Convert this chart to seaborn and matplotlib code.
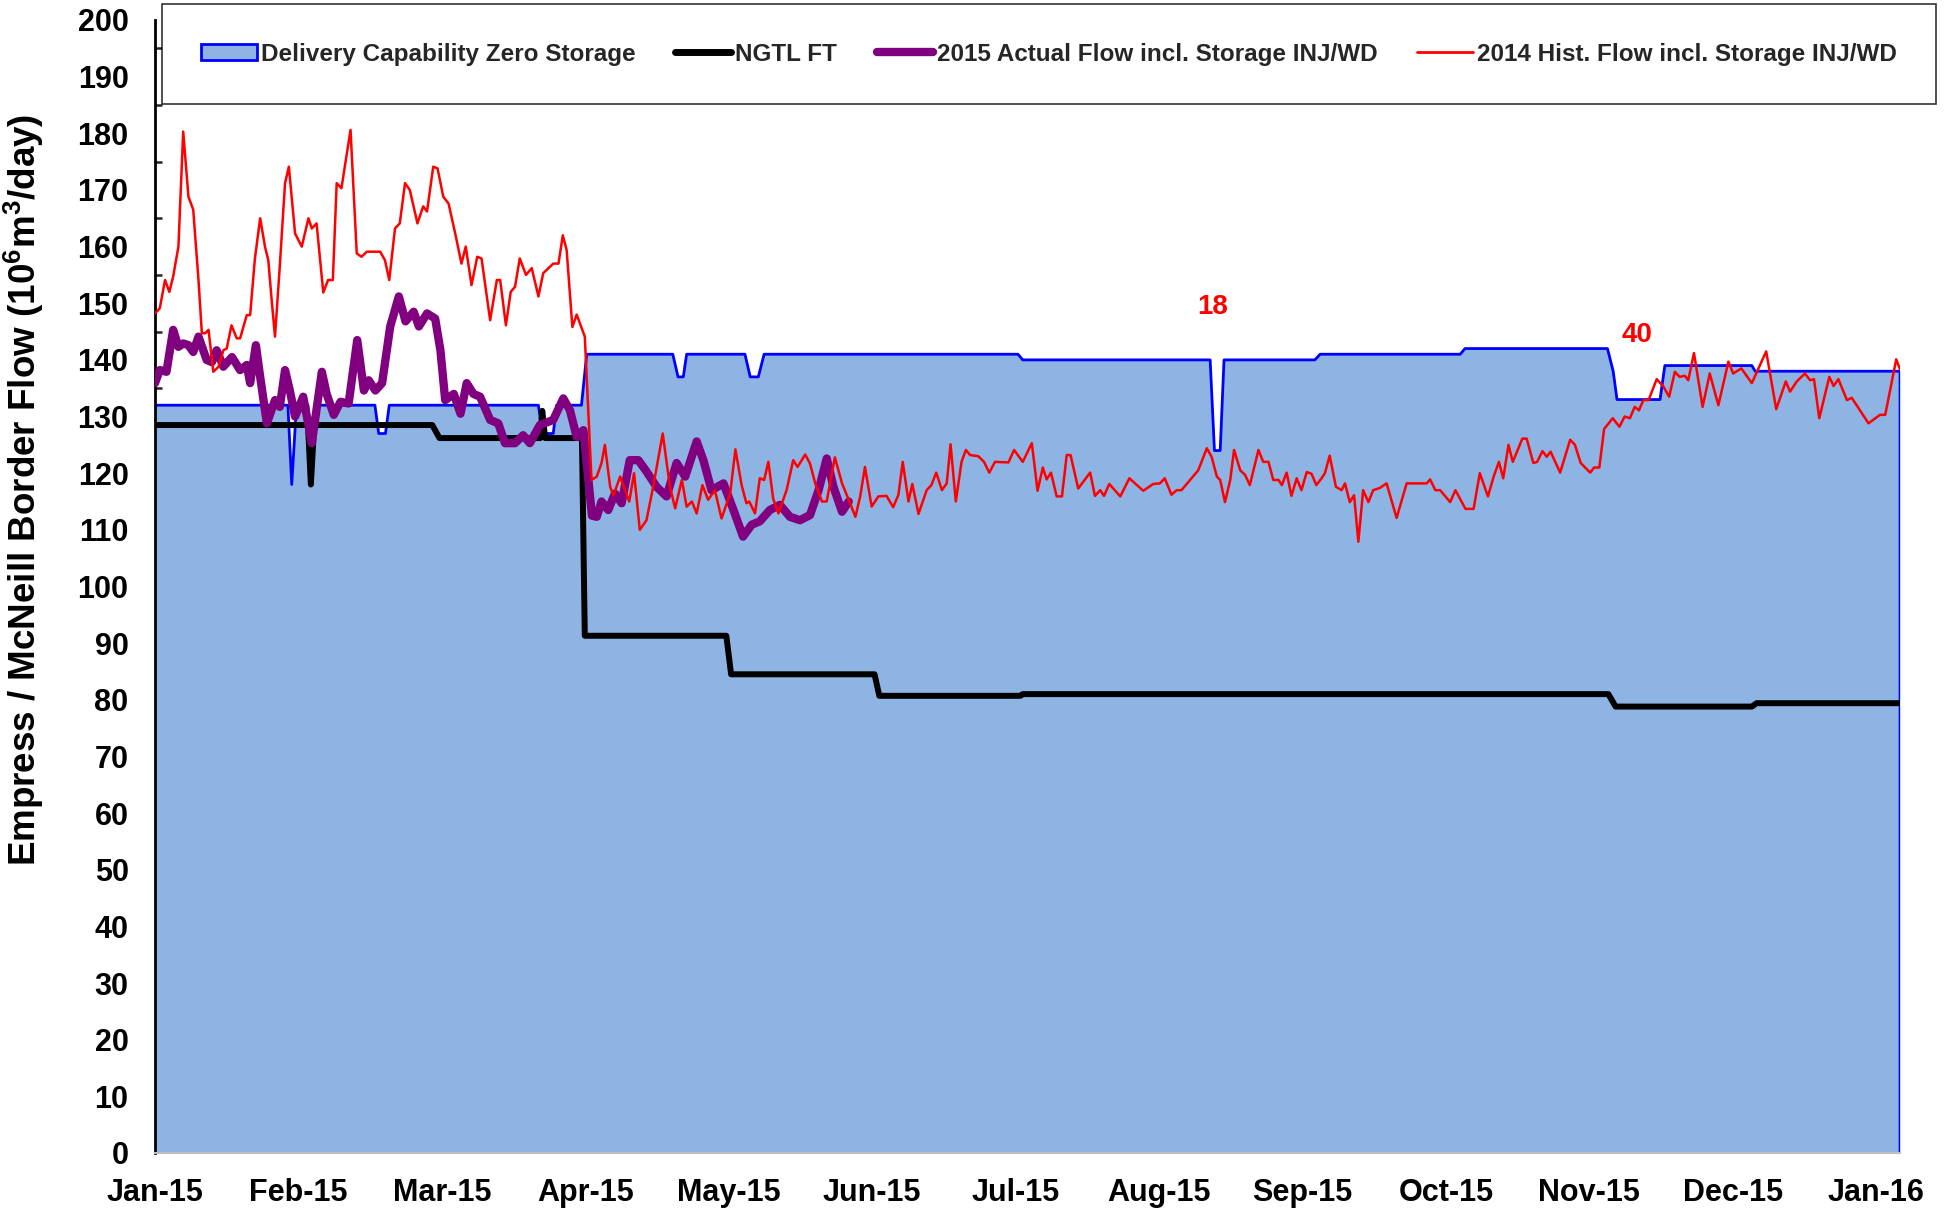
import matplotlib
matplotlib.use("Agg")
import matplotlib.pyplot as plt
import seaborn as sns
from matplotlib.patches import Patch
from matplotlib.lines import Line2D

# x axis is day of 2015 (0 = Jan 1), labels every 30 days like the source chart
tick_days = [0, 30, 60, 90, 120, 150, 180, 210, 240, 270, 300, 330, 360]
tick_labels = ["Jan-15", "Feb-15", "Mar-15", "Apr-15", "May-15", "Jun-15", "Jul-15",
               "Aug-15", "Sep-15", "Oct-15", "Nov-15", "Dec-15", "Jan-16"]

# Delivery Capability Zero Storage (area)
cap_day = [0, 27.8, 28.6, 29.6, 32.0, 32.7, 33.5, 46.0, 46.8, 48.2, 49.0,
           80.2, 81.0, 83.3, 84.0, 89.2, 90.3, 108.3, 109.4, 110.5, 111.2,
           123.4, 124.5, 126.2, 127.4, 180.5, 181.5, 220.7, 221.6, 222.8, 223.6,
           242.6, 243.7, 273.0, 274.0, 303.8, 305.0, 305.8, 314.8, 315.8,
           334.0, 334.7, 365.0, 365.0]
cap_val = [132, 132, 118, 132, 132, 118, 132, 132, 127, 127, 132,
           132, 127, 127, 132, 132, 141, 141, 137, 137, 141,
           141, 137, 137, 141, 141, 140, 140, 124, 124, 140,
           140, 141, 141, 142, 142, 138, 133, 133, 139,
           139, 138, 138, 0]

# NGTL FT
ft_day = [0, 32.0, 32.6, 33.3, 58.0, 59.5, 80.6, 81.0, 81.6, 89.3, 89.9,
          119.5, 120.5, 150.5, 151.5, 181.0, 181.5, 304.0, 305.5, 334.0, 335.0, 365.0]
ft_val = [128.5, 128.5, 118, 128.5, 128.5, 126.2, 126.2, 131.0, 126.2, 126.2, 91.3,
          91.3, 84.5, 84.5, 80.7, 80.7, 81.0, 81.0, 78.8, 78.8, 79.4, 79.4]

# 2015 Actual Flow incl. Storage INJ/WD
act_day = [0.0, 1.0, 2.4, 3.8, 4.9, 5.9, 7.0, 8.0, 9.1, 10.1, 10.8, 11.9, 12.9, 14.3,
           16.1, 17.8, 19.2, 19.9, 21.1, 22.0, 23.4, 25.1, 26.1, 27.2, 28.2, 29.3,
           31.0, 32.8, 34.9, 35.9, 37.4, 38.8, 40.5, 42.3, 43.7, 44.7, 46.1, 47.5,
           49.2, 51.0, 52.4, 54.1, 55.2, 56.9, 58.6, 59.7, 60.7, 62.5, 63.9, 65.2,
           66.6, 68.0, 70.1, 71.8, 73.2, 75.3, 77.0, 78.4, 80.5, 83.3, 85.4, 86.8,
           88.2, 89.6, 91.4, 92.4, 93.4, 94.8, 96.2, 97.6, 99.3, 101.1, 102.8, 104.9,
           107.0, 109.1, 110.9, 113.3, 114.7, 116.4, 118.9, 121.0, 123.0, 124.8,
           126.5, 128.6, 130.7, 132.8, 134.9, 137.0, 138.8, 140.5, 141.9, 143.7, 145.1]
act_val = [135.9, 138.2, 137.9, 145.3, 142.3, 142.9, 142.6, 141.4, 144.1, 141.7, 140.0,
           139.6, 141.7, 138.8, 140.5, 138.2, 139.1, 135.9, 142.6, 137.0, 128.8, 132.9,
           131.7, 138.2, 134.6, 130.0, 133.5, 125.3, 137.9, 134.0, 130.3, 132.6, 132.3,
           143.5, 134.6, 136.4, 134.6, 135.9, 145.9, 151.2, 146.8, 148.5, 145.9, 148.2,
           147.3, 141.7, 132.9, 134.0, 130.5, 135.9, 134.0, 133.5, 129.4, 128.8, 125.3,
           125.3, 126.7, 125.3, 128.5, 129.4, 133.2, 131.1, 126.4, 127.6, 112.5, 112.3,
           115.0, 113.5, 116.4, 114.7, 122.3, 122.3, 120.3, 117.6, 115.9, 121.8, 119.4,
           125.6, 122.3, 117.0, 118.2, 113.5, 108.8, 110.9, 111.5, 113.5, 114.4, 112.3,
           111.7, 112.6, 117.0, 122.6, 117.6, 113.2, 115.0]

# 2014 Hist. Flow incl. Storage INJ/WD
hist_day = [0.0, 1.0, 2.1, 3.0, 3.8, 4.9, 5.9, 7.0, 8.0, 9.1, 9.8, 10.5, 11.2, 12.2,
            13.3, 14.3, 15.0, 16.0, 17.1, 17.8, 19.2, 19.9, 20.9, 22.0, 23.0, 23.7,
            24.4, 25.1, 26.1, 27.2, 28.0, 29.3, 30.7, 32.1, 32.8, 33.8, 35.2, 36.2,
            37.2, 38.0, 39.0, 39.7, 40.9, 42.2, 43.2, 44.3, 47.1, 48.1, 49.0, 50.2,
            51.2, 52.3, 53.3, 54.9, 56.1, 56.9, 58.2, 59.1, 60.3, 61.4, 62.8, 64.1,
            65.0, 66.2, 67.4, 68.3, 70.1, 71.5, 72.2, 73.4, 74.4, 75.3, 76.3, 77.6,
            78.8, 80.2, 81.2, 83.3, 84.4, 85.3, 86.1, 87.3, 88.2, 89.9, 91.3, 92.4,
            93.4, 94.1, 95.2, 95.9, 97.3, 98.3, 99.2, 100.2, 101.4, 102.8, 104.2,
            106.2, 107.7, 108.8, 110.2, 111.2, 112.3, 113.3, 114.5, 115.7, 117.1,
            118.5, 120.3, 121.4, 122.7, 123.7, 124.3, 125.5, 126.5, 127.4, 128.3,
            129.3, 130.4, 132.1, 133.5, 134.4, 136.0, 137.0, 138.1, 139.5, 140.5,
            142.2, 143.7, 145.1, 146.5, 147.5, 148.5, 149.9, 151.3, 153.0, 154.4,
            155.5, 156.4, 157.6, 158.4, 159.7, 161.4, 162.4, 163.4, 164.6, 165.6,
            166.4, 167.5, 168.7, 169.6, 170.5, 172.2, 173.4, 174.5, 175.7, 178.5,
            179.7, 181.5, 183.4, 184.6, 185.7, 186.5, 187.4, 188.6, 189.7, 190.7,
            191.5, 193.1, 195.6, 196.6, 197.7, 198.5, 199.6, 201.9, 203.8, 206.7,
            208.8, 210.2, 211.2, 212.6, 213.7, 214.7, 216.5, 218.2, 220.0, 221.0,
            222.1, 222.8, 223.8, 224.9, 225.7, 227.0, 228.0, 229.0, 230.8, 231.8,
            232.9, 233.9, 235.0, 235.7, 236.7, 237.7, 238.8, 239.8, 240.9, 241.9,
            242.9, 244.0, 244.7, 245.7, 247.0, 248.2, 248.9, 249.9, 250.8, 251.7,
            252.7, 253.8, 254.8, 256.2, 257.6, 259.7, 261.8, 266.0, 266.7, 267.8,
            268.8, 270.9, 272.0, 274.1, 275.8, 277.1, 278.8, 280.0, 281.1, 282.0,
            283.1, 284.0, 286.0, 286.9, 288.3, 289.1, 290.2, 291.1, 291.9, 293.9,
            296.0, 297.0, 298.2, 300.2, 301.0, 302.1, 303.1, 304.9, 306.3, 307.4,
            308.5, 309.5, 310.4, 311.3, 312.4, 314.1, 315.5, 316.7, 317.9, 318.9,
            320.0, 320.7, 321.9, 323.7, 325.2, 327.0, 329.1, 330.1, 331.8, 334.0,
            337.0, 339.1, 341.1, 342.0, 343.4, 345.1, 346.2, 347.0, 348.1, 350.2,
            351.1, 352.1, 353.9, 354.9, 358.4, 360.8, 361.9, 364.2, 365.0]
hist_val = [148.2, 149.1, 154.1, 152.0, 154.7, 160.0, 180.3, 168.8, 166.5, 154.1, 144.7,
            144.7, 145.3, 137.9, 138.8, 141.7, 142.0, 146.1, 143.8, 143.8, 147.9, 147.9,
            157.9, 165.0, 160.0, 157.6, 150.6, 144.1, 156.5, 171.2, 174.1, 162.3, 160.0,
            165.0, 163.2, 164.1, 151.9, 154.1, 154.1, 171.2, 170.3, 174.1, 180.6, 158.8,
            158.2, 159.1, 159.1, 157.6, 154.1, 163.2, 164.1, 171.2, 170.0, 164.1, 167.1,
            166.2, 174.1, 173.8, 168.8, 167.6, 162.3, 157.0, 160.0, 153.2, 158.2, 157.9,
            147.0, 154.1, 154.1, 146.1, 152.0, 152.9, 157.9, 155.0, 156.2, 151.2, 155.3,
            157.0, 157.0, 162.0, 159.4, 145.8, 148.0, 144.1, 118.8, 119.4, 121.8, 125.0,
            117.6, 116.1, 119.4, 117.0, 115.0, 120.0, 110.0, 111.7, 117.6, 127.0, 117.6,
            113.8, 118.8, 114.1, 115.0, 112.9, 117.9, 115.3, 117.0, 112.0, 116.4, 124.2,
            117.9, 114.7, 115.0, 112.9, 119.1, 118.8, 122.0, 115.5, 112.9, 117.0, 122.3,
            121.1, 123.3, 121.7, 118.2, 115.0, 115.0, 122.8, 118.2, 115.3, 112.3, 115.9,
            121.1, 114.1, 115.9, 116.0, 114.0, 116.2, 122.0, 115.0, 118.1, 112.8, 117.0,
            117.9, 120.1, 117.0, 118.2, 125.1, 115.0, 122.0, 124.1, 123.2, 123.0, 122.0,
            120.1, 122.0, 121.9, 124.1, 122.0, 125.3, 116.9, 121.0, 118.9, 120.1, 115.9,
            115.9, 123.2, 123.2, 117.3, 120.1, 116.0, 117.0, 116.0, 118.1, 115.9, 119.1,
            116.9, 118.1, 118.2, 119.1, 116.2, 117.0, 117.0, 118.8, 120.5, 124.4, 122.9,
            119.4, 118.8, 114.9, 118.8, 124.1, 120.5, 119.7, 117.9, 124.1, 122.0, 122.0,
            118.8, 118.8, 117.9, 120.1, 116.0, 119.1, 117.0, 120.2, 119.9, 117.9, 119.1,
            120.0, 123.1, 117.6, 117.0, 118.2, 114.9, 116.1, 107.9, 117.0, 114.9, 117.0,
            117.4, 118.2, 112.1, 118.2, 118.2, 118.9, 117.0, 117.0, 114.9, 117.0, 113.7,
            113.7, 120.0, 115.9, 119.4, 122.0, 119.1, 125.0, 122.0, 126.1, 126.1, 121.8,
            122.0, 123.9, 122.9, 123.8, 120.1, 125.9, 125.0, 121.8, 120.1, 121.0, 121.0,
            127.8, 129.7, 128.2, 130.0, 129.7, 131.7, 131.1, 132.9, 132.9, 136.6, 135.3,
            133.5, 137.9, 137.0, 137.2, 136.4, 141.2, 131.7, 137.6, 132.0, 139.7, 137.6,
            138.5, 135.9, 141.5, 131.3, 136.2, 134.4, 136.2, 137.6, 136.4, 136.6, 129.7,
            137.0, 135.4, 136.6, 132.9, 133.3, 128.8, 130.3, 130.3, 140.1, 138.3]

fill_color = "#8EB4E3"
blue = "#0000FF"
purple = "#800080"
red = "#FF0000"

sns.set_theme(style="white")
plt.rcParams["font.family"] = ["Liberation Sans", "DejaVu Sans"]
plt.rcParams["mathtext.fontset"] = "custom"
plt.rcParams["mathtext.rm"] = "Liberation Sans:bold"
plt.rcParams["mathtext.default"] = "rm"

fig = plt.figure(figsize=(19.57, 12.12), dpi=100)
ax = fig.add_axes([0.0792, 0.0487, 0.8917, 0.9348])

# area + its outline
ax.fill_between(cap_day, cap_val, 0, color=fill_color, linewidth=0, zorder=1)
sns.lineplot(x=cap_day, y=cap_val, ax=ax, color=blue, linewidth=2.0,
             estimator=None, sort=False, zorder=2)
sns.lineplot(x=ft_day, y=ft_val, ax=ax, color="black", linewidth=4.3,
             estimator=None, sort=False, zorder=3)
sns.lineplot(x=act_day, y=act_val, ax=ax, color=purple, linewidth=6,
             estimator=None, sort=False, zorder=4)
sns.lineplot(x=hist_day, y=hist_val, ax=ax, color=red, linewidth=1.8,
             estimator=None, sort=False, zorder=5)

ax.text(221.3, 149.3, "18", color=red, fontsize=20, fontweight="bold",
        ha="center", va="center")
ax.text(310.0, 144.4, "40", color=red, fontsize=20, fontweight="bold",
        ha="center", va="center")

ax.set_xlim(0, 365)
ax.set_ylim(0, 200)
ax.set_xticks(tick_days)
ax.set_xticklabels(tick_labels, fontsize=22, fontweight="bold")
ax.set_yticks(range(0, 201, 10))
ax.set_yticks(range(5, 200, 10), minor=True)
ax.tick_params(axis="y", which="major", direction="out", length=7, width=1.8,
               labelsize=22, pad=12, colors="black")
ax.tick_params(axis="y", which="minor", direction="in", length=5, width=1.8, left=True)
ax.tick_params(axis="x", length=0, pad=18, colors="black")
for lab in ax.get_yticklabels():
    lab.set_fontweight("bold")

ax.set_xlabel("")
ax.set_ylabel("Empress / McNeill Border Flow (10$^{6}$m$^{3}$/day)",
              fontsize=26.5, fontweight="bold", color="black")
ax.yaxis.set_label_coords(-0.0625, 0.585)

for s in ["top", "right"]:
    ax.spines[s].set_visible(False)
ax.spines["left"].set_color("black")
ax.spines["left"].set_linewidth(2.0)
ax.spines["bottom"].set_color("#BFBFBF")
ax.spines["bottom"].set_linewidth(1.5)
ax.grid(False)

handles = [Patch(facecolor=fill_color, edgecolor=blue, linewidth=2),
           Line2D([], [], color="black", linewidth=5),
           Line2D([], [], color=purple, linewidth=6),
           Line2D([], [], color=red, linewidth=2)]
labels = ["Delivery Capability Zero Storage", "NGTL FT",
          "2015 Actual Flow incl. Storage INJ/WD", "2014 Hist. Flow incl. Storage INJ/WD"]
leg = fig.legend(handles, labels, ncol=4, loc="center", bbox_to_anchor=(0.536, 0.9554),
                 frameon=True, fancybox=False, edgecolor="black", borderpad=1.6,
                 handlelength=2.3, handleheight=0.6, handletextpad=0.15,
                 columnspacing=1.65,
                 prop={"weight": "bold", "size": 17.5})
leg.get_frame().set_linewidth(1.2)

fig.savefig("out.png", dpi=100)
